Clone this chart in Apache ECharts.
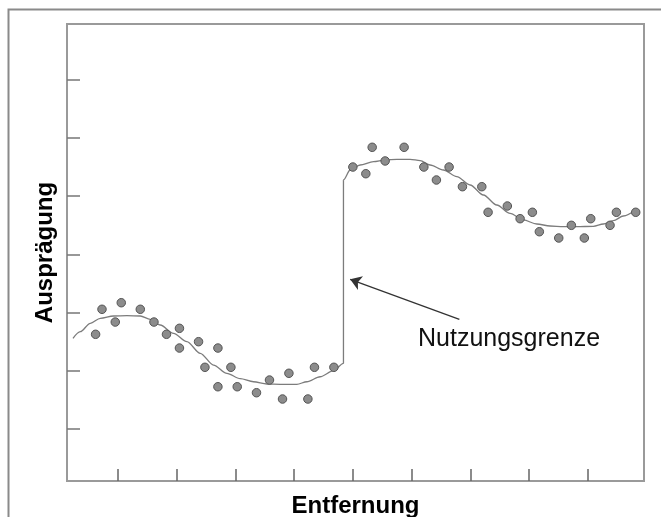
<!DOCTYPE html>
<html>
<head>
<meta charset="utf-8">
<script src="https://cdn.jsdelivr.net/npm/echarts@6/dist/echarts.min.js"></script>
<style>html,body{margin:0;padding:0;background:#fff}#c{width:661px;height:517px}</style>
</head>
<body>
<div id="c"></div>
<script>
// Axis tick positions (no labels shown in the original)
const xTickValues = [0, 1, 2, 3, 4, 5, 6, 7, 8];
const yTickValues = [1, 2, 3, 4, 5, 6, 7];

// Measured points (Entfernung, Ausprägung)
const pointsX = [-0.381, -0.272, -0.046, 0.056, 0.380, 0.613, 0.826, 1.047, 1.047, 1.372, 1.481, 1.702, 1.702, 1.923, 2.031, 2.359, 2.580, 2.802, 2.911, 3.234, 3.346, 3.677,
  4.000, 4.221, 4.329, 4.550, 4.873, 5.209, 5.423, 5.639, 5.866, 6.196, 6.303, 6.631, 6.848, 7.057, 7.176, 7.506, 7.721, 7.942, 8.051, 8.380, 8.488, 8.817];
const pointsY = [2.625, 3.055, 2.836, 3.168, 3.055, 2.836, 2.625, 2.728, 2.389, 2.498, 2.058, 2.389, 1.724, 2.058, 1.724, 1.621, 1.839, 1.513, 1.955, 1.513, 2.058, 2.058,
  5.500, 5.385, 5.839, 5.604, 5.839, 5.500, 5.277, 5.500, 5.162, 5.162, 4.722, 4.830, 4.612, 4.722, 4.388, 4.280, 4.498, 4.280, 4.612, 4.498, 4.722, 4.722];

// Fitted curve with the jump at the "Nutzungsgrenze"
const curveX = [-0.766, -0.642, -0.471, -0.301, -0.075, 0.153, 0.380, 0.550, 0.720, 0.946, 1.174, 1.401, 1.627, 1.855, 2.082, 2.308, 2.536, 2.763, 3.047, 3.217, 3.443, 3.670, 3.840,
  3.840, 3.954, 4.124, 4.351, 4.550, 4.749, 4.975, 5.146, 5.316, 5.542, 5.770, 5.997, 6.223, 6.451, 6.677, 6.904, 7.132, 7.358, 7.585, 7.813, 8.095, 8.266, 8.436, 8.606, 8.834];
const curveY = [2.556, 2.670, 2.814, 2.900, 2.940, 2.945, 2.940, 2.883, 2.785, 2.642, 2.498, 2.298, 2.097, 1.955, 1.862, 1.810, 1.771, 1.766, 1.766, 1.810, 1.896, 2.000, 2.127,
  5.277, 5.449, 5.535, 5.592, 5.621, 5.633, 5.633, 5.609, 5.535, 5.449, 5.334, 5.191, 5.019, 4.847, 4.705, 4.590, 4.521, 4.486, 4.474, 4.474, 4.481, 4.521, 4.578, 4.658, 4.773];

// Annotation arrow (from label to the jump)
const arrowFrom = [5.814, 2.883];
const arrowTo = [3.954, 3.570];
const annotationText = 'Nutzungsgrenze';

const chart = echarts.init(document.getElementById('c'), null, {renderer: 'canvas'});
const font = '"Liberation Sans", Arial, sans-serif';

chart.setOption({
  animation: false,
  backgroundColor: '#ffffff',
  grid: {left: 67, right: 17, top: 24, bottom: 36, show: true, borderColor: '#9a9a9a', borderWidth: 2, containLabel: false, outerBoundsMode: 'none'},
  xAxis: {
    type: 'value', min: -0.868, max: 8.958,
    name: 'Entfernung', nameLocation: 'middle', nameGap: 13,
    nameTextStyle: {fontFamily: font, fontWeight: 'bold', fontSize: 24, color: '#000'},
    axisLine: {show: true, onZero: false, lineStyle: {color: '#9a9a9a', width: 2}},
    axisTick: {show: true, inside: true, length: 12, customValues: xTickValues, lineStyle: {color: '#666', width: 1.5}},
    axisLabel: {show: false},
    splitLine: {show: false}
  },
  yAxis: {
    type: 'value', min: 0.104, max: 7.958,
    name: 'Ausprägung', nameLocation: 'middle', nameGap: 10, nameRotate: 90,
    nameTextStyle: {fontFamily: font, fontWeight: 'bold', fontSize: 24, color: '#000'},
    axisLine: {show: true, onZero: false, lineStyle: {color: '#9a9a9a', width: 2}},
    axisTick: {show: true, inside: true, length: 13, customValues: yTickValues, lineStyle: {color: '#777', width: 1.5}},
    axisLabel: {show: false},
    splitLine: {show: false}
  },
  graphic: [
    {type: 'rect', shape: {x: 8.5, y: 9.5, width: 700, height: 600}, style: {fill: 'none', stroke: '#8a8a8a', lineWidth: 2}, z: -10, silent: true},
    {type: 'text', x: 418, y: 339, style: {text: annotationText, font: '25px ' + font, fill: '#111', verticalAlign: 'middle', align: 'left'}}
  ],
  series: [
    {
      type: 'line',
      data: curveX.map((x, i) => [x, curveY[i]]),
      showSymbol: false,
      smooth: 0.3,
      smoothMonotone: 'x',
      lineStyle: {color: '#7c7c7c', width: 1.3},
      z: 2,
      markLine: {
        silent: true,
        symbol: ['none', 'arrow'],
        symbolSize: 11,
        label: {show: false},
        lineStyle: {color: '#333', width: 1.3, type: 'solid'},
        data: [[{coord: arrowFrom}, {coord: arrowTo}]]
      }
    },
    {
      type: 'scatter',
      data: pointsX.map((x, i) => [x, pointsY[i]]),
      symbolSize: 8.5,
      itemStyle: {color: '#8c8c8c', borderColor: '#555', borderWidth: 1, opacity: 1},
      z: 3
    }
  ]
});
</script>
</body>
</html>
